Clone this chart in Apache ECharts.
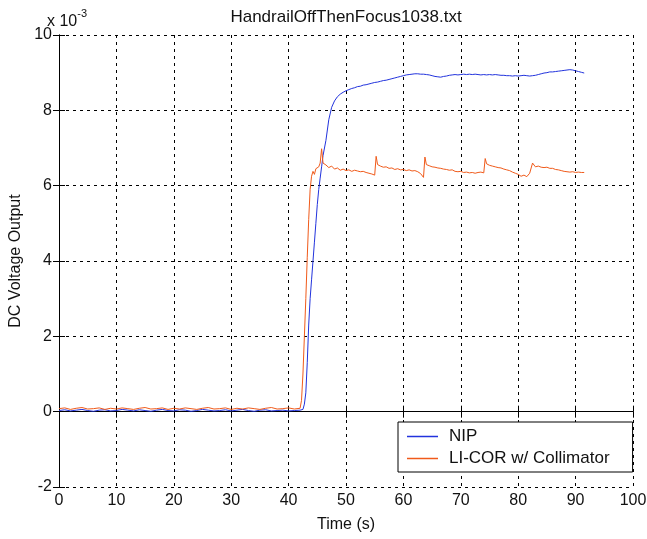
<!DOCTYPE html>
<html>
<head>
<meta charset="utf-8">
<script src="https://cdn.jsdelivr.net/npm/echarts@6/dist/echarts.min.js"></script>
<style>html,body{margin:0;padding:0;background:#fff}#c{width:647px;height:539px}</style>
</head>
<body>
<div id="c"></div>
<script>
var titleText = 'HandrailOffThenFocus1038.txt';
var xName = 'Time (s)';
var yName = 'DC Voltage Output';
var seriesNames = ['NIP', 'LI-COR w/ Collimator'];
var xTicks = [0, 100, 10];
var yTicks = [-2, 10, 2];

// time (s)
var time = [0,1,2,3,4,5,6,7,8,9,10,11,12,13,14,15,16,17,18,19,20,21,22,23,24,25,26,27,28,29,30,31,32,33,34,35,36,37,38,39,40,41,42,
42.25,42.5,42.75,43,43.25,43.5,43.75,44,44.25,44.5,44.75,45,45.25,45.5,45.75,46,
46.5,47,47.5,48,48.5,49,49.5,50,50.5,51,51.5,52,52.5,53,53.5,54,54.5,55,
55.25,
55.5,56,56.5,57,57.5,58,58.5,59,59.5,60,60.5,61,61.5,62,62.5,63,63.5,
63.75,
64,64.5,65,65.5,66,66.5,67,67.5,68,68.5,69,69.5,70,70.5,71,71.5,72,72.5,73,73.5,74,
74.25,
74.5,75,75.5,76,76.5,77,77.5,78,78.5,79,79.5,80,80.5,81,81.5,82,82.5,83,83.5,84,84.5,85,85.5,86,86.5,87,87.5,88,88.5,89,89.5,90,90.5,91,91.5];

// NIP (x 10^-3 V)
var nip = [0.03,0.05,0.02,0.04,0.06,0.03,0.01,0.04,0.05,0.02,0.03,0.06,0.04,0.02,0.05,0.03,0.01,0.04,0.06,0.03,0.02,0.05,0.04,0.01,0.03,0.06,0.04,0.02,0.03,0.05,0.02,0.04,0.06,0.03,0.01,0.04,0.05,0.02,0.03,0.04,0.02,0.03,0.04,
0.03,0.06,0.2,0.5,1.3,2.3,3.0,3.5,4.0,4.5,5.0,5.5,5.9,6.2,6.5,6.8,
7.2,7.75,8.08,8.25,8.36,8.43,8.48,8.52,8.55,8.58,8.6,8.63,8.64,8.67,8.68,8.7,8.72,8.74,
8.74,
8.75,8.77,8.79,8.8,8.82,8.84,8.86,8.88,8.9,8.92,8.94,8.95,8.96,8.97,8.97,8.96,8.96,
8.95,
8.95,8.94,8.92,8.9,8.89,8.88,8.9,8.91,8.93,8.94,8.95,8.94,8.95,8.96,8.95,8.96,8.95,8.96,8.95,8.94,8.95,
8.95,
8.94,8.95,8.94,8.95,8.94,8.93,8.93,8.92,8.92,8.91,8.92,8.91,8.92,8.93,8.92,8.91,8.92,8.93,8.95,8.97,8.99,9.0,9.02,9.02,9.03,9.04,9.05,9.06,9.07,9.08,9.07,9.05,9.03,9.01,8.99];

// LI-COR w/ Collimator (x 10^-3 V)
var licor = [0.08,0.1,0.06,0.09,0.11,0.07,0.08,0.1,0.06,0.09,0.07,0.1,0.08,0.06,0.09,0.11,0.07,0.08,0.1,0.06,0.09,0.07,0.1,0.08,0.06,0.09,0.11,0.07,0.08,0.1,0.06,0.09,0.07,0.1,0.08,0.06,0.09,0.11,0.07,0.08,0.1,0.07,0.09,
0.3,1.0,2.0,3.0,4.1,5.1,5.9,6.25,6.38,6.3,6.45,6.4,6.5,6.6,6.98,6.6,
6.55,6.48,6.52,6.44,6.47,6.41,6.44,6.4,6.42,6.38,6.41,6.39,6.37,6.38,6.35,6.33,6.31,6.28,
6.78,
6.56,6.52,6.49,6.5,6.46,6.47,6.43,6.45,6.42,6.43,6.4,6.42,6.39,6.4,6.37,6.32,6.22,
6.76,
6.56,6.53,6.5,6.49,6.47,6.46,6.44,6.43,6.41,6.42,6.38,6.37,6.38,6.35,6.36,6.34,6.35,6.33,6.35,6.36,6.34,
6.72,
6.58,6.54,6.52,6.5,6.48,6.47,6.44,6.42,6.4,6.36,6.33,6.3,6.25,6.28,6.24,6.33,6.6,6.5,6.52,6.49,6.48,6.49,6.46,6.46,6.43,6.42,6.4,6.38,6.37,6.36,6.37,6.35,6.36,6.35,6.35];

function pairs(t, v) { var out = []; for (var i = 0; i < t.length; i++) out.push([t[i], v[i]]); return out; }

var FONT = "'Liberation Sans', Arial, sans-serif";
var dash = { color: '#000', width: 1, type: [3, 4] };
var BLUE = '#2233dd', ORANGE = '#f05a1a';

var chart = echarts.init(document.getElementById('c'), null, { renderer: 'canvas' });
chart.setOption({
  animation: false,
  backgroundColor: '#fff',
  textStyle: { fontFamily: FONT },
  grid: { left: 59, top: 35, width: 574, height: 452, containLabel: false, outerBoundsMode: 'none' },
  xAxis: [
    { type: 'value', position: 'bottom', min: xTicks[0], max: xTicks[1], interval: xTicks[2],
      name: xName, nameLocation: 'middle', nameGap: 30,
      nameTextStyle: { fontSize: 16, color: '#111', fontFamily: FONT },
      axisLine: { show: true, lineStyle: { color: '#000', width: 1 } },
      axisTick: { show: true, inside: true, length: 6, lineStyle: { color: '#000' } },
      axisLabel: { margin: 6, fontSize: 16, color: '#111', fontFamily: FONT },
      splitLine: { show: true, lineStyle: dash } },
    { type: 'value', position: 'top', min: xTicks[0], max: xTicks[1], interval: xTicks[2],
      axisLine: { show: true, lineStyle: { color: '#000', width: 1 } },
      axisTick: { show: true, inside: true, length: 6, lineStyle: { color: '#000' } },
      axisLabel: { show: false }, splitLine: { show: false } }
  ],
  yAxis: [
    { type: 'value', position: 'left', min: yTicks[0], max: yTicks[1], interval: yTicks[2],
      name: yName, nameLocation: 'middle', nameGap: 33, nameRotate: 90,
      nameTextStyle: { fontSize: 16, color: '#111', fontFamily: FONT },
      axisLine: { show: true, lineStyle: { color: '#000', width: 1 } },
      axisTick: { show: true, inside: true, length: 6, lineStyle: { color: '#000' } },
      axisLabel: { margin: 7, fontSize: 16, color: '#111', fontFamily: FONT },
      splitLine: { show: true, lineStyle: dash } },
    { type: 'value', position: 'right', min: yTicks[0], max: yTicks[1], interval: yTicks[2],
      axisLine: { show: true, lineStyle: { color: '#000', width: 1 } },
      axisTick: { show: true, inside: true, length: 6, lineStyle: { color: '#000' } },
      axisLabel: { show: false }, splitLine: { show: false } }
  ],
  legend: {
    orient: 'vertical', left: 398, top: 422,
    backgroundColor: '#fff', borderColor: '#000', borderWidth: 1, borderRadius: 0,
    padding: [6, 23, 5, 9], itemGap: 5, itemWidth: 31, itemHeight: 1.5, icon: 'rect',
    textStyle: { fontSize: 17, color: '#111', fontFamily: FONT, padding: [0, 0, 0, 6] },
    data: seriesNames
  },
  graphic: [
    { type: 'text', x: 346, y: 9, style: { text: titleText, font: '17px ' + FONT, fill: '#111', textAlign: 'center' } },
    { type: 'text', x: 47, y: 8,
      style: { text: '{a|x 10}{b|-3}', rich: { a: { fontSize: 16, fontFamily: FONT, fill: '#111', padding: [6, 0, 0, 0] }, b: { fontSize: 11, fontFamily: FONT, fill: '#111', verticalAlign: 'top' } } } }
  ],
  series: [
    { name: seriesNames[0], type: 'line', data: pairs(time, nip), showSymbol: false, symbol: 'none',
      lineStyle: { color: BLUE, width: 1 }, itemStyle: { color: BLUE }, z: 3 },
    { name: seriesNames[1], type: 'line', data: pairs(time, licor), showSymbol: false, symbol: 'none',
      lineStyle: { color: ORANGE, width: 1 }, itemStyle: { color: ORANGE }, z: 4 }
  ]
});
</script>
</body>
</html>
